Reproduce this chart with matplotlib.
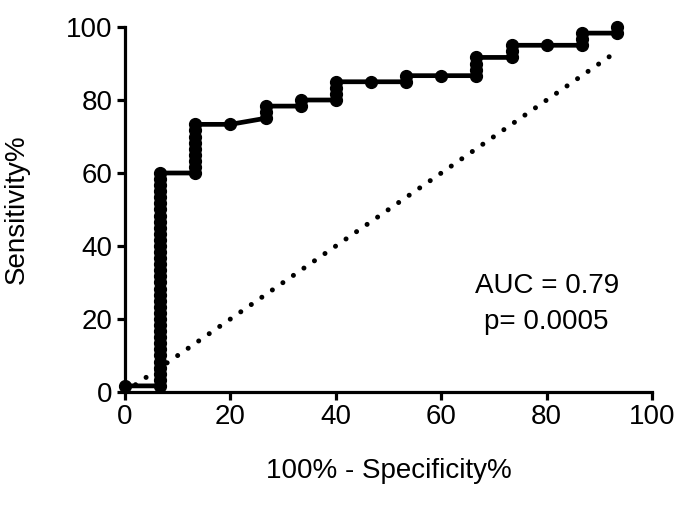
import matplotlib
matplotlib.use("Agg")
import matplotlib.pyplot as plt

plt.rcParams['font.family'] = ['Liberation Sans', 'DejaVu Sans']

# 100% - Specificity% (x) and Sensitivity% (y) of each ROC point
fpr = [0.00,
       6.67, 6.67, 6.67, 6.67, 6.67, 6.67, 6.67, 6.67, 6.67, 6.67, 6.67, 6.67,
       6.67, 6.67, 6.67, 6.67, 6.67, 6.67, 6.67, 6.67, 6.67, 6.67, 6.67, 6.67,
       6.67, 6.67, 6.67, 6.67, 6.67, 6.67, 6.67, 6.67, 6.67, 6.67, 6.67, 6.67,
       13.33, 13.33, 13.33, 13.33, 13.33, 13.33, 13.33, 13.33, 13.33,
       20.00,
       26.67, 26.67, 26.67,
       33.33, 33.33,
       40.00, 40.00, 40.00, 40.00,
       46.67,
       53.33, 53.33,
       60.00,
       66.67, 66.67, 66.67, 66.67,
       73.33, 73.33, 73.33,
       80.00,
       86.67, 86.67, 86.67,
       93.33, 93.33]
sens = [1.67,
        1.67, 3.33, 5.00, 6.67, 8.33, 10.00, 11.67, 13.33, 15.00, 16.67, 18.33, 20.00,
        21.67, 23.33, 25.00, 26.67, 28.33, 30.00, 31.67, 33.33, 35.00, 36.67, 38.33, 40.00,
        41.67, 43.33, 45.00, 46.67, 48.33, 50.00, 51.67, 53.33, 55.00, 56.67, 58.33, 60.00,
        60.00, 61.67, 63.33, 65.00, 66.67, 68.33, 70.00, 71.67, 73.33,
        73.33,
        75.00, 76.67, 78.33,
        78.33, 80.00,
        80.00, 81.67, 83.33, 85.00,
        85.00,
        85.00, 86.67,
        86.67,
        86.67, 88.33, 90.00, 91.67,
        91.67, 93.33, 95.00,
        95.00,
        95.00, 96.67, 98.33,
        98.33, 100.00]

ref_x = [0.0, 93.33]
ref_y = [0.0, 93.33]

ticks = [0, 20, 40, 60, 80, 100]
xlabel = "100% - Specificity%"
ylabel = "Sensitivity%"
annot = "AUC = 0.79\np= 0.0005"

fig = plt.figure(figsize=(6.85, 5.05), dpi=100)
ax = fig.add_axes([0.1825, 0.2238, 0.7695, 0.7227])

ax.plot(ref_x, ref_y, color='black', lw=3.6, linestyle=(0, (0.01, 2.55)),
        dash_capstyle='round', solid_capstyle='round', zorder=2)
ax.plot(fpr, sens, color='black', lw=3.4, marker='o', markersize=8.5,
        markerfacecolor='black', markeredgecolor='black', zorder=3,
        clip_on=False)

ax.set_xlim(0, 100)
ax.set_ylim(0, 100)
ax.set_xticks(ticks)
ax.set_yticks(ticks)
for s in ['top', 'right']:
    ax.spines[s].set_visible(False)
for s in ['left', 'bottom']:
    ax.spines[s].set_linewidth(2.3)
ax.tick_params(axis='both', length=6, width=2.3, labelsize=20, pad=3)

ax.set_xlabel(xlabel, fontsize=20, labelpad=20)
ax.set_ylabel(ylabel, fontsize=20, labelpad=26)

ax.text(80, 24.2, annot, ha='center', va='center', fontsize=20, linespacing=1.5)

fig.savefig("out.png", dpi=100)
